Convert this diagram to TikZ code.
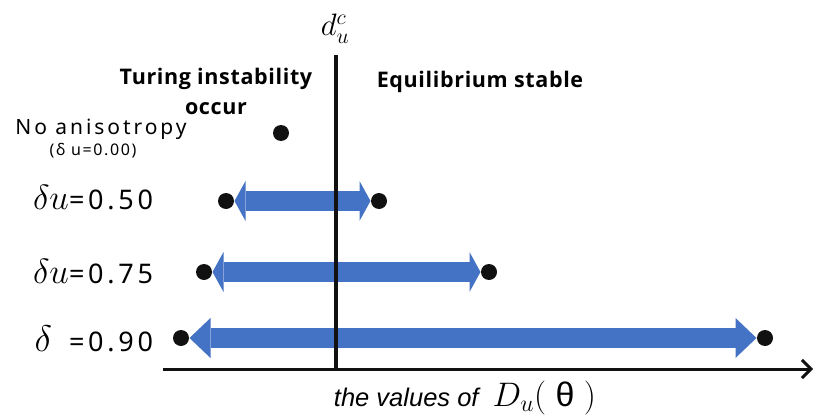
\documentclass[tikz,border=0pt]{standalone}
\usepackage{fix-cm}
\usepackage{fontspec}
\setsansfont{Noto Sans}
\newfontfamily\widesans{Noto Sans}[LetterSpace=14]
\newfontfamily\headsans{Open Sans}[LetterSpace=3]
\newfontfamily\axissans{Liberation Sans}
\usetikzlibrary{arrows.meta}
\definecolor{spanblue}{HTML}{4472C4}
\definecolor{dotblack}{HTML}{111111}

\begin{document}
\begin{tikzpicture}[
    x=1pt, y=-1pt,
    line width=1pt,
    font=\sffamily,
    dot/.style={circle, fill=dotblack, inner sep=0pt, minimum size=16pt},
    rowlabel/.style={anchor=east, font=\widesans\fontsize{27}{30}\selectfont},
    regionlabel/.style={font=\headsans\bfseries\fontsize{21.5}{30}\selectfont, align=center},
    span/.style={spanblue, line width=20pt,
        {Triangle[length=#1, width=40pt, line width=0pt]}-{Triangle[length=#1, width=40pt, line width=0pt]}}
]
    \useasboundingbox (0,0) rectangle (814,415);

    % Region labels
    \node[regionlabel] (turing) at (216,91) {Turing instability\\occur};
    \node[regionlabel] (stable) at (480,82) {Equilibrium stable};

    % Row labels
    \node[font=\widesans\fontsize{21}{22}\selectfont] (noaniso) at (101,129) {No anisotropy};
    \node[font=\widesans\addfontfeature{LetterSpace=10}\fontsize{16}{18}\selectfont] (noanisoval) at (93,151) {(δ u=0.00)};
    \node[rowlabel] (row50) at (157,198) {{\fontsize{35}{35}\selectfont$\delta u$}=0.50};
    \node[rowlabel] (row75) at (157,272) {{\fontsize{35}{35}\selectfont$\delta u$}=0.75};
    \node[rowlabel] (row90) at (157,339) {{\fontsize{37}{37}\selectfont$\delta$\,} =0.90};

    % Dots
    \node[dot] (d00) at (281,133) {};
    \node[dot] (d50l) at (226,201) {};
    \node[dot] (d50r) at (379,201) {};
    \node[dot] (d75l) at (204,272) {};
    \node[dot] (d75r) at (489,272) {};
    \node[dot] (d90l) at (181,338) {};
    \node[dot] (d90r) at (765,338) {};

    % Ranges
    \draw[span=11pt] (d50l) -- (d50r);
    \draw[span=11pt] (d75l) -- (d75r);
    \draw[span=21pt] (d90l) -- (d90r);

    % Critical value line
    \coordinate (crittop) at (336,55);
    \coordinate (critbot) at (336,369);
    \draw[line width=4pt, dotblack] (crittop) -- (critbot);
    \node (dcrit) at (335,29) {\fontsize{31}{31}\selectfont$d_u^c$};

    % Axis
    \coordinate (axisstart) at (163,369);
    \coordinate (axisend) at (813,369);
    \draw[line width=3pt, dotblack, -{Straight Barb[length=9pt, width=18pt]}] (axisstart) -- (axisend);
    \node[font=\axissans\fontsize{25.5}{27}\selectfont] (xlabel) at (465,398)
        {\itshape the values of\ \ {\fontsize{34}{34}\selectfont$D_u($\ {\upshape θ}\ $)$}};
\end{tikzpicture}
\end{document}
